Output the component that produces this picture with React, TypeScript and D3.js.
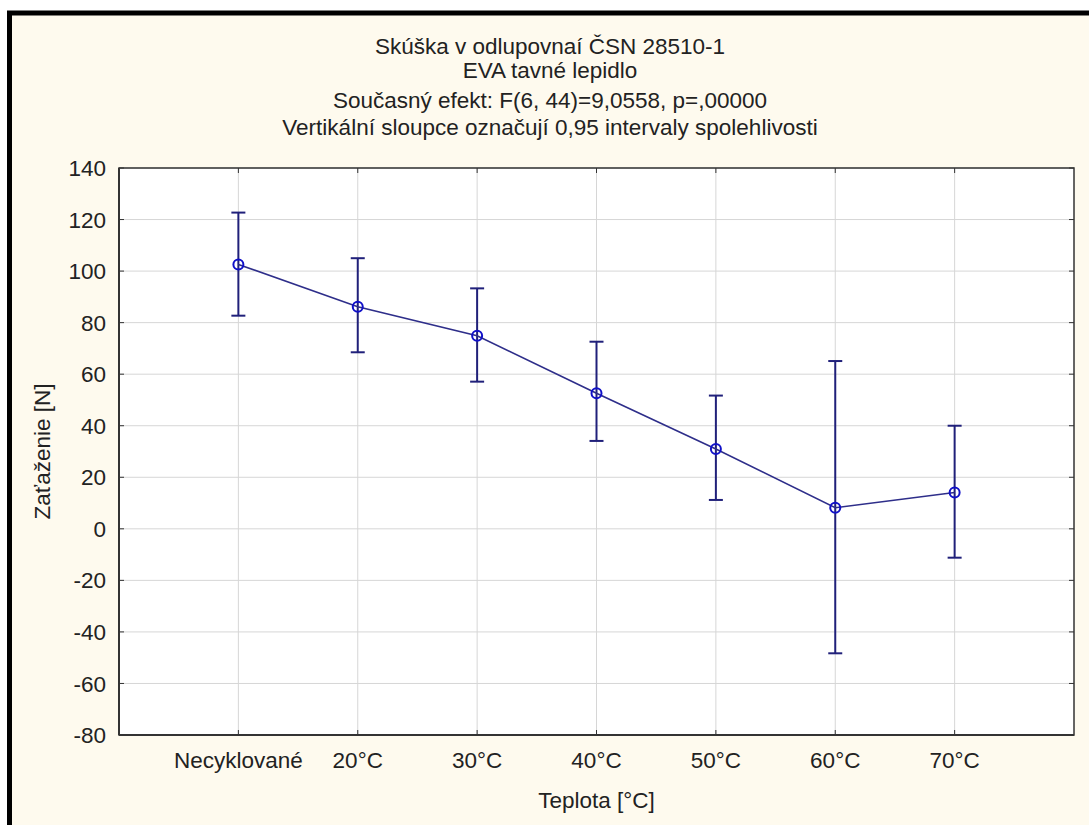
import React from "react";
import * as d3 from "d3";

const categories = ["Necyklované", "20°C", "30°C", "40°C", "50°C", "60°C", "70°C"];
const means = [102.6, 86.2, 74.9, 52.6, 31.0, 8.2, 14.1];
const upper = [122.7, 105.0, 93.3, 72.6, 51.7, 65.1, 40.0];
const lower = [82.7, 68.5, 57.1, 34.1, 11.2, -48.3, -11.2];
const yTicks = [-80, -60, -40, -20, 0, 20, 40, 60, 80, 100, 120, 140];
const titleLines = [
  "Skúška v odlupovnaí ČSN 28510-1",
  "EVA tavné lepidlo",
  "Současný efekt: F(6, 44)=9,0558, p=,00000",
  "Vertikální sloupce označují 0,95 intervaly spolehlivosti",
];
const xTitle = "Teplota [°C]";
const yTitle = "Zaťaženie [N]";

const W = 1089;
const H = 825;
const L = 119, R = 1074, T = 168, B = 735;
const FONT = "'Liberation Sans', Arial, sans-serif";

export default function App() {
  const x = d3.scaleLinear().domain([0, categories.length + 1]).range([L, R]);
  const y = d3.scaleLinear().domain([-80, 140]).range([B, T]);
  const xs = categories.map((_, i) => x(i + 1));
  const line = d3
    .line<number>()
    .x((_, i) => xs[i])
    .y((d) => y(d));
  const titleY = [54, 78, 108, 135];
  const cap = 7;
  const ink = "#20207a";
  const fs = 22.5;
  return (
    <div style={{ position: "absolute", left: 0, top: 0 }}>
      <svg width={W} height={H} style={{ display: "block" }} fontFamily={FONT}>
        <rect x={0} y={0} width={W} height={H} fill="#ffffff" />
        <rect x={9.5} y={13} width={W + 20} height={H + 20} fill="#fefaee" stroke="#000" strokeWidth={5} />
        <rect x={L} y={T} width={R - L} height={B - T} fill="#ffffff" />
        {yTicks.map((t) => (
          <line key={"gy" + t} x1={L} x2={R} y1={y(t)} y2={y(t)} stroke="#d6d6d6" strokeWidth={1} />
        ))}
        {xs.map((xx, i) => (
          <line key={"gx" + i} x1={xx} x2={xx} y1={T} y2={B} stroke="#d6d6d6" strokeWidth={1} />
        ))}
        {yTicks.map((t) => (
          <g key={"ty" + t}>
            <line x1={L} x2={L + 5} y1={y(t)} y2={y(t)} stroke="#333" strokeWidth={1} />
            <line x1={R - 5} x2={R} y1={y(t)} y2={y(t)} stroke="#333" strokeWidth={1} />
          </g>
        ))}
        {xs.map((xx, i) => (
          <g key={"tx" + i}>
            <line x1={xx} x2={xx} y1={B - 5} y2={B} stroke="#333" strokeWidth={1} />
            <line x1={xx} x2={xx} y1={T} y2={T + 5} stroke="#333" strokeWidth={1} />
          </g>
        ))}
        <rect x={L} y={T} width={R - L} height={B - T} fill="none" stroke="#333" strokeWidth={1.5} />
        <line x1={L} x2={L} y1={T} y2={B} stroke="#333" strokeWidth={2} />
        <line x1={L} x2={R} y1={B} y2={B} stroke="#333" strokeWidth={2} />
        {yTicks.map((t) => (
          <text key={"ly" + t} x={106} y={y(t)} dy="0.36em" textAnchor="end" fontSize={fs} fill="#222">
            {t}
          </text>
        ))}
        {categories.map((c, i) => (
          <text key={"lx" + i} x={xs[i]} y={768} textAnchor="middle" fontSize={fs} fill="#222">
            {c}
          </text>
        ))}
        {titleLines.map((t, i) => (
          <text key={"tt" + i} x={550} y={titleY[i]} textAnchor="middle" fontSize={fs} fill="#222">
            {t}
          </text>
        ))}
        <text x={(L + R) / 2} y={808} textAnchor="middle" fontSize={fs} fill="#222">
          {xTitle}
        </text>
        <text
          transform={`translate(50, ${(T + B) / 2}) rotate(-90)`}
          textAnchor="middle"
          fontSize={fs}
          fill="#222"
        >
          {yTitle}
        </text>
        {xs.map((xx, i) => (
          <g key={"eb" + i} stroke={ink} strokeWidth={2}>
            <line x1={xx} x2={xx} y1={y(upper[i])} y2={y(lower[i])} />
            <line x1={xx - cap} x2={xx + cap} y1={y(upper[i])} y2={y(upper[i])} />
            <line x1={xx - cap} x2={xx + cap} y1={y(lower[i])} y2={y(lower[i])} />
          </g>
        ))}
        <path d={line(means) || ""} fill="none" stroke="#2e2e8a" strokeWidth={1.6} />
        {means.map((m, i) => (
          <circle key={"pt" + i} cx={xs[i]} cy={y(m)} r={5} fill="none" stroke="#1010c8" strokeWidth={2} />
        ))}
      </svg>
    </div>
  );
}
